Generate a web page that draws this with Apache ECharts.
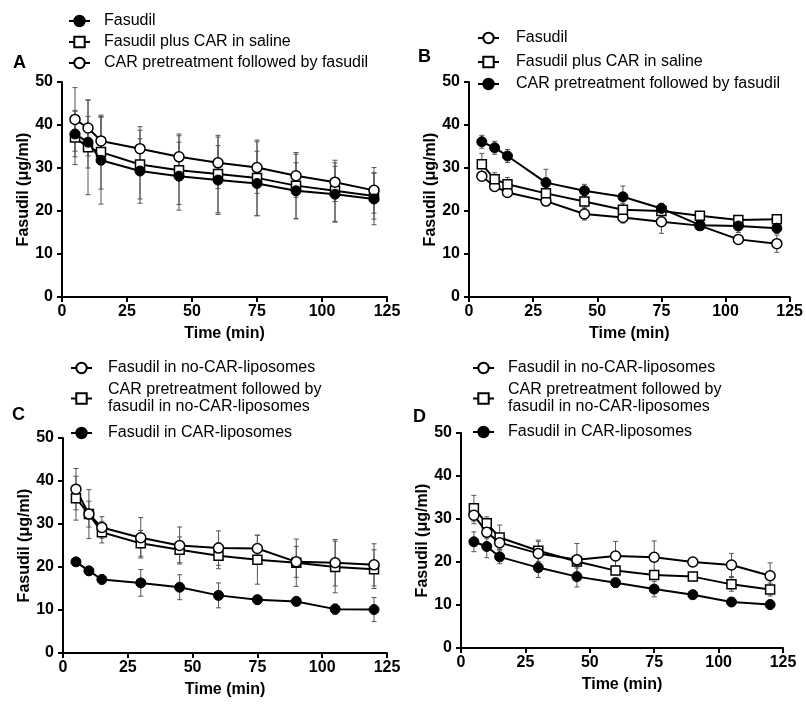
<!DOCTYPE html>
<html>
<head>
<meta charset="utf-8">
<script src="https://cdn.jsdelivr.net/npm/echarts@6/dist/echarts.min.js"></script>
<style>html,body{margin:0;padding:0;background:#fff}#c{width:806px;height:704px}</style>
</head>
<body>
<div id="c"></div>
<script>
// ---- data ----
const times = [5, 10, 15, 30, 45, 60, 75, 90, 105, 120];
const xTicks = [0, 25, 50, 75, 100, 125];
const yTicks = [0, 10, 20, 30, 40, 50];

// Panel A
const aFasudil = [37.9, 36.0, 31.8, 29.3, 28.1, 27.2, 26.4, 24.7, 23.9, 22.8];
const aFasudilSd = [5.3, 6, 10.2, 7.5, 7.9, 8, 7.5, 6.5, 6.5, 6];
const aPlusCar = [37.1, 34.8, 33.7, 30.8, 29.5, 28.6, 27.7, 25.9, 24.7, 23.5];
const aPlusCarSd = [6.3, 11, 8.6, 8, 8, 9, 8.8, 7.7, 7.1, 5.4];
const aPretreat = [41.3, 39.3, 36.3, 34.5, 32.6, 31.2, 30.1, 28.2, 26.7, 24.8];
const aPretreatSd = [7.4, 6.5, 5.5, 5.1, 5.3, 6, 6, 5, 4.5, 5.3];

// Panel B
const bFasudil = [28.1, 25.7, 24.3, 22.3, 19.3, 18.5, 17.5, 16.6, 13.4, 12.4];
const bFasudilSd = [1, 1, 1, 1, 1.4, 1.3, 2.7, 1, 1, 2];
const bPlusCar = [30.9, 27.4, 26.2, 24.1, 22.2, 20.3, 20.0, 18.9, 17.9, 18.1];
const bPlusCarSd = [2.5, 1.5, 1.6, 1.5, 1.5, 1.5, 1.5, 1, 1, 1];
const bPretreat = [36.1, 34.7, 32.8, 26.6, 24.7, 23.3, 20.6, 16.7, 16.5, 16.0];
const bPretreatSd = [1.5, 1.5, 1.5, 3.1, 1.5, 2.5, 1.2, 1.2, 1.5, 1.2];

// Panel C
const cNoCar = [38.1, 32.3, 29.2, 26.8, 25.0, 24.4, 24.3, 21.2, 21.0, 20.5];
const cNoCarSd = [4.8, 3, 2.5, 4.7, 4.3, 4, 3.1, 3.6, 5.4, 4.9];
const cPreNoCar = [36.0, 32.3, 28.1, 25.5, 24.0, 22.6, 21.7, 21.0, 20.0, 19.5];
const cPreNoCarSd = [5.1, 5.7, 2.5, 3, 3, 3, 5.7, 5.5, 6, 4.5];
const cCarLipo = [21.2, 19.1, 17.1, 16.3, 15.3, 13.4, 12.4, 12.0, 10.2, 10.1];
const cCarLipoSd = [1, 1, 1, 3.1, 2.9, 2.9, 1, 1, 1.2, 2.8];

// Panel D
const dNoCar = [30.9, 26.9, 24.5, 22.0, 20.5, 21.4, 21.1, 20.0, 19.3, 16.8];
const dNoCarSd = [2, 1.5, 1.5, 2.8, 3.8, 3.4, 3.8, 1, 2.7, 3];
const dPreNoCar = [32.5, 29.0, 25.7, 22.6, 20.1, 18.0, 17.0, 16.6, 14.8, 13.6];
const dPreNoCarSd = [3, 1.5, 2.9, 2.5, 1.5, 1, 1, 1, 1.6, 1.5];
const dCarLipo = [24.7, 23.6, 21.2, 18.7, 16.6, 15.2, 13.7, 12.4, 10.7, 10.1];
const dCarLipoSd = [2.3, 2.6, 1.6, 2.3, 2.4, 1, 1.8, 1, 1, 1];

const labelsAB = ['Fasudil', 'Fasudil plus CAR in saline', 'CAR pretreatment followed by fasudil'];
const labelsCD = ['Fasudil in no-CAR-liposomes', 'CAR pretreatment followed by\nfasudil in no-CAR-liposomes', 'Fasudil in CAR-liposomes'];
const panelLetters = ['A', 'B', 'C', 'D'];
const xName = 'Time (min)';
const yName = 'Fasudil (\u03bcg/ml)';

// ---- styles / layout ----
const FONT = '"Liberation Sans", Arial, sans-serif';
const grids = [
  {left: 62, top: 82, width: 325, height: 215},
  {left: 469, top: 82, width: 324, height: 215},
  {left: 63, top: 438, width: 324, height: 215},
  {left: 461, top: 433, width: 322, height: 215}
];
const MARK = {
  filled: {symbol: 'circle', symbolSize: 10, itemStyle: {color: '#000', borderColor: '#000', borderWidth: 1}},
  square: {symbol: 'rect', symbolSize: 9, itemStyle: {color: '#fff', borderColor: '#000', borderWidth: 1.5}},
  open: {symbol: 'circle', symbolSize: 10, itemStyle: {color: '#fff', borderColor: '#000', borderWidth: 1.5}}
};

const panels = [
  {series: [
    {name: labelsAB[1], mean: aPlusCar, sd: aPlusCarSd, mark: 'square', leg: [68, 42]},
    {name: labelsAB[2], mean: aPretreat, sd: aPretreatSd, mark: 'open', leg: [68, 63]},
    {name: labelsAB[0], mean: aFasudil, sd: aFasudilSd, mark: 'filled', leg: [68, 21]}
  ], pad: 9, letter: [13, 54]},
  {series: [
    {name: labelsAB[0], mean: bFasudil, sd: bFasudilSd, mark: 'open', leg: [477, 38]},
    {name: labelsAB[1], mean: bPlusCar, sd: bPlusCarSd, mark: 'square', leg: [477, 62]},
    {name: labelsAB[2], mean: bPretreat, sd: bPretreatSd, mark: 'filled', leg: [477, 84]}
  ], pad: 12, letter: [418, 48]},
  {series: [
    {name: labelsCD[1], mean: cPreNoCar, sd: cPreNoCarSd, mark: 'square', leg: [70, 398.5]},
    {name: labelsCD[0], mean: cNoCar, sd: cNoCarSd, mark: 'open', leg: [70, 368]},
    {name: labelsCD[2], mean: cCarLipo, sd: cCarLipoSd, mark: 'filled', leg: [70, 433]}
  ], pad: 11, letter: [12, 406]},
  {series: [
    {name: labelsCD[1], mean: dPreNoCar, sd: dPreNoCarSd, mark: 'square', leg: [472, 398.5]},
    {name: labelsCD[0], mean: dNoCar, sd: dNoCarSd, mark: 'open', leg: [472, 368]},
    {name: labelsCD[2], mean: dCarLipo, sd: dCarLipoSd, mark: 'filled', leg: [472, 432]}
  ], pad: 9, letter: [413, 408]}
];

const axisText = {fontSize: 16, fontWeight: 'bold', color: '#000', fontFamily: FONT};
const xAxes = [], yAxes = [], series = [], legends = [], graphics = [];

panels.forEach((p, gi) => {
  xAxes.push({
    type: 'value', gridIndex: gi, min: xTicks[0], max: xTicks[xTicks.length - 1], interval: 25,
    name: xName, nameLocation: 'middle', nameGap: 29, nameTextStyle: axisText,
    axisLine: {show: true, onZero: false, lineStyle: {color: '#000', width: 2}},
    axisTick: {show: true, length: 5, lineStyle: {color: '#000', width: 2}},
    axisLabel: Object.assign({margin: 7}, axisText),
    splitLine: {show: false}
  });
  yAxes.push({
    type: 'value', gridIndex: gi, min: yTicks[0], max: yTicks[yTicks.length - 1], interval: 10,
    name: yName, nameLocation: 'middle', nameGap: 25, nameTextStyle: axisText,
    axisLine: {show: true, onZero: false, lineStyle: {color: '#000', width: 2}},
    axisTick: {show: true, length: 5, lineStyle: {color: '#000', width: 2}},
    axisLabel: Object.assign({margin: 9}, axisText),
    splitLine: {show: false}
  });
  p.series.forEach((s) => {
    const id = panelLetters[gi] + '|' + s.name;
    // error bars
    series.push({
      type: 'custom', xAxisIndex: gi, yAxisIndex: gi, z: 1, silent: true,
      data: times.map((t, i) => [t, s.mean[i], s.sd[i]]),
      encode: {x: 0, y: 1},
      renderItem: (params, api) => {
        const x = api.value(0), m = api.value(1), sd = api.value(2);
        const top = api.coord([x, m + sd]);
        const bot = api.coord([x, m - sd]);
        const w = 2.5;
        const st = {stroke: '#555', lineWidth: 1};
        return {type: 'group', children: [
          {type: 'line', shape: {x1: top[0], y1: top[1], x2: bot[0], y2: bot[1]}, style: st},
          {type: 'line', shape: {x1: top[0] - w, y1: top[1], x2: top[0] + w, y2: top[1]}, style: st},
          {type: 'line', shape: {x1: bot[0] - w, y1: bot[1], x2: bot[0] + w, y2: bot[1]}, style: st}
        ]};
      }
    });
    const mk = MARK[s.mark];
    series.push({
      type: 'line', name: id, xAxisIndex: gi, yAxisIndex: gi, z: s.mark === 'filled' ? 4 : 3,
      data: times.map((t, i) => [t, s.mean[i]]),
      symbol: mk.symbol, symbolSize: mk.symbolSize, showAllSymbol: true,
      itemStyle: mk.itemStyle,
      lineStyle: {color: '#000', width: 2},
      emphasis: {disabled: true},
      animation: false
    });
    const lines = s.name.split('\n').length;
    legends.push({
      data: [id], orient: 'vertical', left: s.leg[0], top: s.leg[1] - 8.5 * lines,
      padding: 0, itemWidth: 21, itemHeight: 13, selectedMode: false,
      formatter: (n) => n.split('|')[1],
      textStyle: {fontSize: 16, fontFamily: FONT, color: '#000', lineHeight: 17, padding: [0, 0, 0, p.pad]}
    });
  });
  graphics.push({
    type: 'text', left: p.letter[0], top: p.letter[1],
    style: {text: panelLetters[gi], font: 'bold 18px ' + FONT, fill: '#000'}
  });
});

const chart = echarts.init(document.getElementById('c'), null, {renderer: 'canvas'});
chart.setOption({
  backgroundColor: '#fff',
  animation: false,
  grid: grids,
  xAxis: xAxes,
  yAxis: yAxes,
  legend: legends,
  series: series,
  graphic: graphics
});
</script>
</body>
</html>
